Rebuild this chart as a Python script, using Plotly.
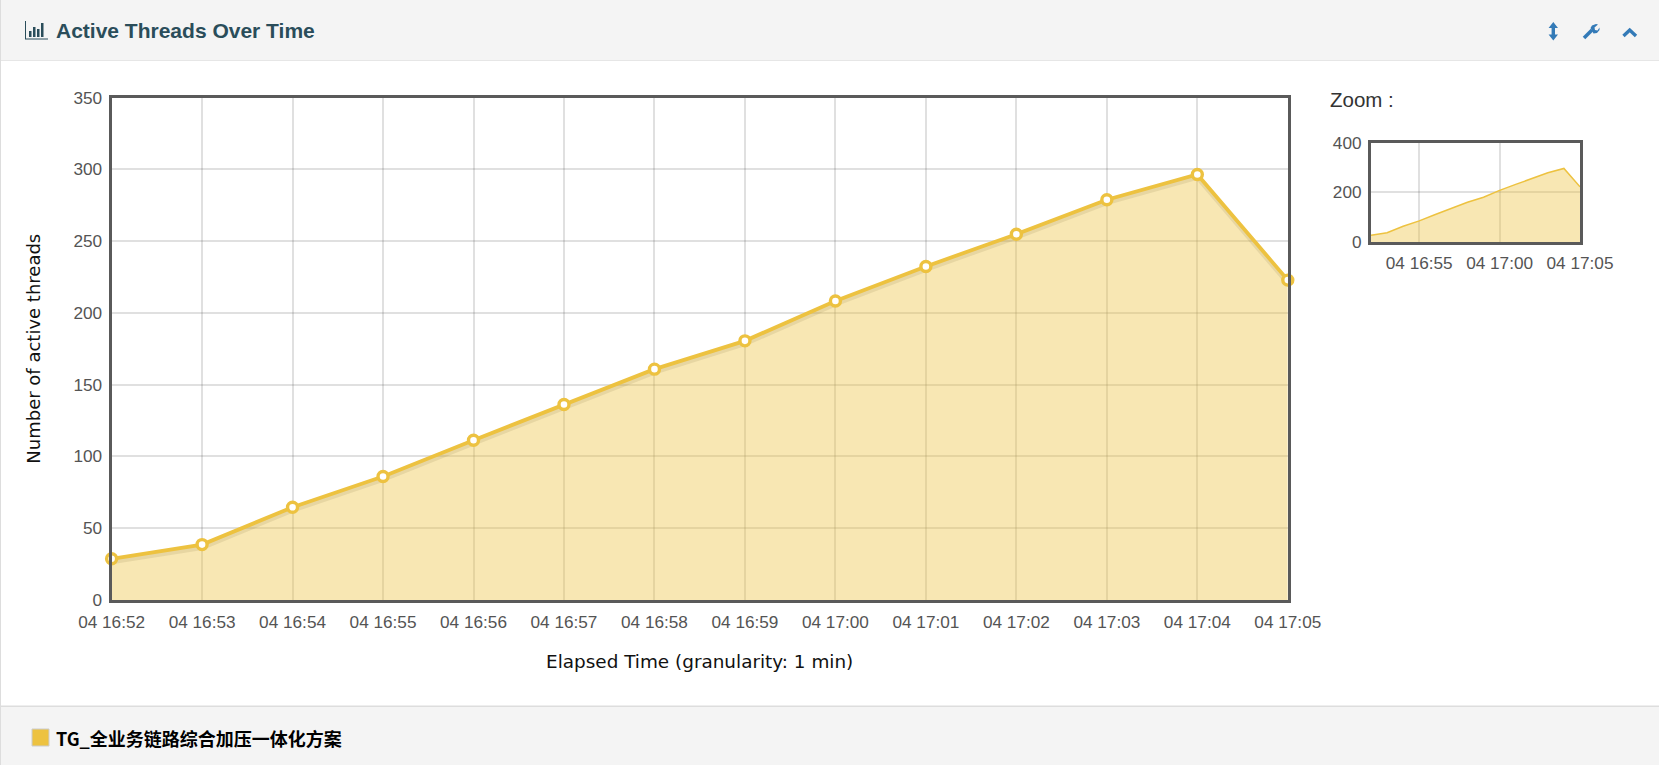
import plotly.graph_objects as go

# ---------- data ----------
TIMES = ["2021-01-04 16:52", "2021-01-04 16:53", "2021-01-04 16:54", "2021-01-04 16:55",
         "2021-01-04 16:56", "2021-01-04 16:57", "2021-01-04 16:58", "2021-01-04 16:59",
         "2021-01-04 17:00", "2021-01-04 17:01", "2021-01-04 17:02", "2021-01-04 17:03",
         "2021-01-04 17:04", "2021-01-04 17:05"]
ACTIVE = [28.7, 38.6, 64.6, 86, 111.3, 136.2, 160.8, 180.5, 208.3, 232.3, 254.8, 278.8, 296.4, 222.8]
SERIES_NAME = "TG_全业务链路综合加压一体化方案"
MAIN_XTICKS = TIMES
ZOOM_XTICKS = ["2021-01-04 16:55", "2021-01-04 17:00", "2021-01-04 17:05"]
MAIN_YTICKS = [0, 50, 100, 150, 200, 250, 300, 350]
ZOOM_YTICKS = [0, 200, 400]
TITLE = "Active Threads Over Time"
X_TITLE = "Elapsed Time (granularity: 1 min)"
Y_TITLE = "Number of active threads"

# ---------- style ----------
W, H = 1659, 765
SERIES = "#edc240"
FILL = "rgba(237,194,64,0.4)"
FRAME = "#5a5a5a"
GRID = "rgba(84,84,84,0.18)"
TICKTXT = "#545454"
HEAD = "#2a4d5a"
BLUE = "#337ab7"
SANS = "Liberation Sans, Arial, sans-serif"


def px(x):
    return x / W


def py(y):
    return 1 - y / H


def rect(x0, y0, x1, y1, fill, line=None, lw=0, layer="below"):
    return dict(type="rect", xref="paper", yref="paper", x0=px(x0), x1=px(x1), y0=py(y1), y1=py(y0),
                fillcolor=fill, line=dict(color=line or fill, width=lw), layer=layer)


def path(points, color, close=True, width=0):
    d = "M" + " L".join(f"{px(a):.5f},{py(b):.5f}" for a, b in points) + (" Z" if close else "")
    return dict(type="path", xref="paper", yref="paper", path=d,
                fillcolor=color if close else "rgba(0,0,0,0)",
                line=dict(color=color, width=width), layer="above")


fig = go.Figure()

# main chart: soft shadow, filled line, points
fig.add_trace(go.Scatter(x=TIMES, y=[v - 2.2 for v in ACTIVE], mode="lines",
                         line=dict(color="rgba(0,0,0,0.11)", width=4.5), hoverinfo="skip", showlegend=False))
fig.add_trace(go.Scatter(x=TIMES, y=ACTIVE, mode="lines+markers", name=SERIES_NAME, fill="tozeroy", fillcolor=FILL,
                         line=dict(color=SERIES, width=3.8),
                         marker=dict(size=10, color="white", line=dict(color=SERIES, width=3.4)),
                         cliponaxis=False, showlegend=False))
# overview chart
fig.add_trace(go.Scatter(x=TIMES, y=ACTIVE, mode="lines", fill="tozeroy", fillcolor=FILL,
                         line=dict(color=SERIES, width=1.5), xaxis="x2", yaxis="y2",
                         showlegend=False, name=SERIES_NAME))

axis_common = dict(showline=True, linecolor=FRAME, linewidth=3, mirror=True, showgrid=True, gridcolor=GRID,
                   gridwidth=1.5, zeroline=False, tickfont=dict(family=SANS, size=17.2, color=TICKTXT),
                   ticks="outside", tickcolor="rgba(0,0,0,0)", automargin=False)

y_title_font = dict(family="DejaVu Sans", size=18, color="#111111")
x_title_font = dict(family="DejaVu Sans", size=18.4, color="#111111")

shapes = [
    rect(0, 0, W, 60, "#f4f4f4"),
    rect(0, 60, W, 61, "#e6e6e6"),
    rect(0, 706, W, H, "#f4f4f4"),
    rect(0, 705.5, W, 707, "#dddddd"),
    rect(0, 0, 1, H, "#dddddd"),
    # legend swatch
    rect(32, 729, 49, 746, SERIES, "#cccccc", 1),
    # stats icon
    path([(25, 21), (26, 21), (26, 38.5), (48, 38.5), (48, 39.6), (25, 39.6)], HEAD),
    path([(29, 31), (31.5, 31), (31.5, 37), (29, 37)], HEAD),
    path([(33, 27), (35.5, 27), (35.5, 37), (33, 37)], HEAD),
    path([(37, 29), (39.5, 29), (39.5, 37), (37, 37)], HEAD),
    path([(41, 23), (43.5, 23), (43.5, 37), (41, 37)], HEAD),
    # resize-vertical icon
    path([(1553.3, 22), (1558, 28), (1555, 28), (1555, 34.5), (1558, 34.5), (1553.3, 40.5),
          (1548.6, 34.5), (1551.6, 34.5), (1551.6, 28), (1548.6, 28)], BLUE),
    # wrench icon
    path([(1584, 38), (1592, 30)], BLUE, close=False, width=3.6),
    path([(1590.5, 28), (1592, 25.5), (1596, 24), (1598, 24.6), (1594.5, 27.5), (1595, 30), (1597.5, 30.5),
          (1599.5, 27.5), (1599.5, 30), (1597, 33), (1593.5, 33.5)], BLUE),
    # chevron-up icon
    path([(1623.5, 36), (1629.7, 30), (1636, 36)], BLUE, close=False, width=3.4),
]

annotations = [
    dict(text=f"<b>{TITLE}</b>", x=px(54), y=py(31), xref="paper", yref="paper", xanchor="left", yanchor="middle",
         showarrow=False, font=dict(family=SANS, size=21, color=HEAD)),
    dict(text="Zoom :", x=px(1328), y=py(99.5), xref="paper", yref="paper", xanchor="left", yanchor="middle",
         showarrow=False, font=dict(family=SANS, size=20.5, color="#333333")),
    dict(text=f"<b>{SERIES_NAME}</b>", x=px(54), y=py(738), xref="paper", yref="paper", xanchor="left",
         yanchor="middle", showarrow=False, font=dict(family="Noto Sans CJK SC", size=18, color="#000000")),
]

fig.update_layout(
    width=W, height=H, autosize=False, margin=dict(l=0, r=0, t=0, b=0, pad=0),
    paper_bgcolor="white", plot_bgcolor="white", showlegend=False,
    shapes=shapes, annotations=annotations,
    xaxis=dict(domain=[px(111.6), px(1287.8)], type="date", range=[TIMES[0], TIMES[-1]],
               tickmode="array", tickvals=MAIN_XTICKS, tickformat="%d %H:%M", ticklen=4,
               tickangle=0, title=dict(text=X_TITLE, font=x_title_font, standoff=25), **axis_common),
    yaxis=dict(domain=[py(600), py(97.5)], range=[0, 350], tickmode="array", tickvals=MAIN_YTICKS, ticklen=3,
               title=dict(text=Y_TITLE, font=y_title_font, standoff=29), **axis_common),
    xaxis2=dict(domain=[px(1371), px(1580)], type="date", anchor="y2", range=[TIMES[0], TIMES[-1]],
                tickmode="array", tickvals=ZOOM_XTICKS, tickformat="%d %H:%M", ticklen=3, tickangle=0, **axis_common),
    yaxis2=dict(domain=[py(242.3), py(142.6)], anchor="x2", range=[0, 400], tickmode="array", tickvals=ZOOM_YTICKS,
                ticklen=3, **axis_common),
)

fig.write_html("out.html", config=dict(displayModeBar=False),
               post_script="document.body.style.margin='0';document.documentElement.style.overflow='hidden';")
